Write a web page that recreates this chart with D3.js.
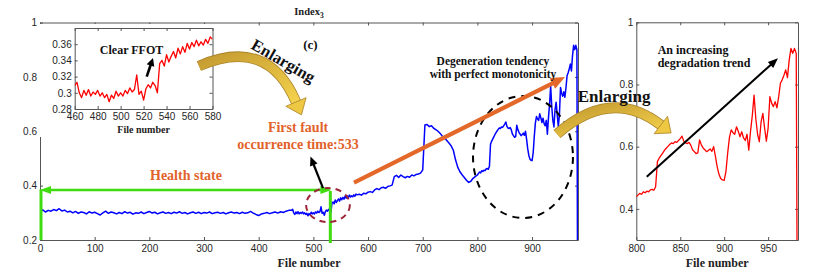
<!DOCTYPE html>
<html>
<head>
<meta charset="utf-8">
<script src="https://cdn.jsdelivr.net/npm/d3@7"></script>
<style>
body{margin:0;background:#fff;}
svg{display:block;}
</style>
</head>
<body>
<script>
// Index3 values, in four runs of file numbers
var healthyStart = 0, healthyStep = 5;
var healthyIdx = [0.305,0.311,0.303,0.309,0.306,0.312,0.308,0.315,0.307,0.310,
  0.303,0.306,0.300,0.305,0.298,0.303,0.301,0.296,0.304,0.299,
  0.302,0.297,0.292,0.300,0.306,0.298,0.303,0.300,0.296,0.301,
  0.297,0.304,0.299,0.302,0.295,0.300,0.298,0.303,0.297,0.301,
  0.305,0.299,0.302,0.296,0.300,0.303,0.298,0.301,0.297,0.302,
  0.299,0.304,0.298,0.301,0.296,0.300,0.303,0.298,0.302,0.297,
  0.301,0.299,0.303,0.297,0.300,0.302,0.298,0.301,0.296,0.300,
  0.303,0.299,0.301,0.297,0.302,0.298,0.300,0.305,0.299,0.294,
  0.290,0.296,0.298,0.301,0.297,0.300,0.303,0.299,0.304,0.301,
  0.306,0.309,0.309];
var faultStart = 462, faultStep = 2;
var faultIdx = [0.313,0.300,0.294,0.303,0.297,0.304,0.296,0.301,0.298,0.303,
  0.296,0.300,0.294,0.298,0.289,0.297,0.293,0.302,0.296,0.300,
  0.296,0.303,0.299,0.306,0.301,0.304,0.322,0.298,0.302,0.291,
  0.305,0.310,0.306,0.313,0.309,0.300,0.336,0.340,0.333,0.347,
  0.338,0.345,0.351,0.343,0.355,0.348,0.357,0.350,0.361,0.354,
  0.362,0.357,0.365,0.358,0.363,0.359,0.366,0.361,0.369,0.366];
var growthStart = 584, growthStep = 4;
var growthIdx = [0.368,0.365,0.372,0.370,0.376,0.378,0.375,0.384,0.389,0.385,
  0.392,0.394,0.390,0.397,0.399,0.402,0.433,0.438,0.430,0.439,
  0.433,0.429,0.434,0.431,0.439,0.436,0.441,0.443,0.446,0.458,
  0.623,0.625,0.617,0.620,0.611,0.606,0.600,0.592,0.581,0.575,
  0.566,0.557,0.546,0.530,0.495,0.468,0.451,0.440,0.430,0.420,
  0.412,0.416,0.427,0.433];
var lateStart = 800, lateStep = 2;
var lateIdx = [0.439,0.445,0.450,0.447,0.455,0.452,0.457,0.455,0.461,0.463,
  0.460,0.471,0.552,0.563,0.571,0.579,0.588,0.595,0.601,0.607,
  0.612,0.610,0.616,0.614,0.620,0.626,0.634,0.618,0.612,0.610,
  0.614,0.605,0.590,0.584,0.578,0.580,0.622,0.606,0.596,0.590,
  0.584,0.588,0.593,0.585,0.600,0.570,0.536,0.512,0.498,0.493,
  0.492,0.520,0.580,0.630,0.654,0.645,0.640,0.664,0.650,0.632,
  0.648,0.628,0.620,0.640,0.589,0.650,0.700,0.766,0.690,0.640,
  0.616,0.680,0.707,0.660,0.618,0.660,0.761,0.740,0.729,0.745,
  0.725,0.760,0.804,0.815,0.830,0.847,0.822,0.879,0.916,0.900,
  0.916,0.900];
var dropFile = [983], dropIdx = [0.2];

var mainXTicks = [0,100,200,300,400,500,600,700,800,900];
var mainYTicks = [0.2,0.4,0.6,0.8,1];
var inXTicks = [460,480,500,520,540,560,580];
var inYTicks = [0.28,0.3,0.32,0.34,0.36];
var rtXTicks = [800,850,900,950];
var rtYTicks = [0.4,0.6,0.8,1];

function run(start, step, vals){
  return vals.map(function(v,i){ return {f:start+i*step, v:v}; });
}
var series = [].concat(
  run(healthyStart, healthyStep, healthyIdx),
  run(faultStart, faultStep, faultIdx),
  run(growthStart, growthStep, growthIdx),
  run(lateStart, lateStep, lateIdx),
  dropFile.map(function(f,i){ return {f:f, v:dropIdx[i]}; })
);

var serif = "'Liberation Serif','Times New Roman',serif";
var sans = "'Liberation Sans',Arial,Helvetica,sans-serif";

var svg = d3.select("body").append("svg").attr("width",818).attr("height",272);
var defs = svg.append("defs");
var gold = defs.append("linearGradient").attr("id","gold").attr("x1","0").attr("y1","0").attr("x2","1").attr("y2","1");
gold.append("stop").attr("offset","0").attr("stop-color","#c49a30");
gold.append("stop").attr("offset","1").attr("stop-color","#f4d24c");

var clipN = 0;
function drawPanel(o){
  var g = svg.append("g");
  var x = d3.scaleLinear().domain(o.xd).range([o.l,o.r]);
  var y = d3.scaleLinear().domain(o.yd).range([o.b,o.t]);
  if(o.bg){
    g.append("rect").attr("x",o.l-o.bg[0]).attr("y",o.t-o.bg[1])
     .attr("width",o.r-o.l+o.bg[0]+o.bg[2]).attr("height",o.b-o.t+o.bg[1]+o.bg[3]).attr("fill","#fff");
  }
  var style = function(s){
    s.attr("font-family",sans).attr("font-size",o.fs);
    s.selectAll("path,line").attr("stroke","#555").attr("stroke-width",1);
    s.selectAll("text").attr("fill","#262626");
  };
  var fmt = d3.format("~g");
  g.append("g").attr("transform","translate(0,"+o.b+")")
   .call(d3.axisBottom(x).tickValues(o.xt).tickSizeInner(-3).tickSizeOuter(0).tickPadding(o.pad).tickFormat(fmt)).call(style);
  g.append("g").attr("transform","translate(0,"+o.t+")")
   .call(d3.axisTop(x).tickValues(o.xt).tickSizeInner(-3).tickSizeOuter(0).tickFormat("")).call(style);
  g.append("g").attr("transform","translate("+o.l+",0)")
   .call(d3.axisLeft(y).tickValues(o.yt).tickSizeInner(-3).tickSizeOuter(0).tickPadding(3).tickFormat(fmt)).call(style);
  g.append("g").attr("transform","translate("+o.r+",0)")
   .call(d3.axisRight(y).tickValues(o.yt).tickSizeInner(-3).tickSizeOuter(0).tickFormat("")).call(style);

  var id = "clip"+(clipN++);
  defs.append("clipPath").attr("id",id).append("rect")
    .attr("x",o.l).attr("y",o.t).attr("width",o.r-o.l).attr("height",o.b-o.t);
  var pts = series.filter(function(d){ return d.f>=o.xd[0] && d.f<=o.xd[1]; });
  g.append("path").datum(pts)
   .attr("clip-path","url(#"+id+")")
   .attr("d", d3.line().x(function(d){return x(d.f);}).y(function(d){return y(d.v);}))
   .attr("fill","none").attr("stroke",o.color).attr("stroke-width",o.lw).attr("stroke-linejoin","round");

  g.append("text").text("File number")
   .attr("x",(o.l+o.r)/2).attr("y",o.labY)
   .attr("text-anchor","middle").attr("font-family",serif).attr("font-weight","bold")
   .attr("font-size",o.labFs).attr("fill","#222");
  return {g:g, x:x, y:y};
}

function label(g, txt, px, py, size, color, anchor, rot){
  var t = g.append("text").text(txt).attr("x",px).attr("y",py)
    .attr("font-family",serif).attr("font-weight","bold").attr("font-size",size)
    .attr("fill",color).attr("text-anchor",anchor||"middle");
  if(rot) t.attr("transform","rotate("+rot+","+px+","+py+")");
  return t;
}

function arrow(g, x1,y1,x2,y2, color, w, hl, hw, both){
  var dx=x2-x1, dy=y2-y1, L=Math.hypot(dx,dy), ux=dx/L, uy=dy/L, nx=-uy, ny=ux;
  var sx = both ? x1+ux*hl*0.8 : x1, sy = both ? y1+uy*hl*0.8 : y1;
  g.append("line").attr("x1",sx).attr("y1",sy).attr("x2",x2-ux*hl*0.8).attr("y2",y2-uy*hl*0.8)
   .attr("stroke",color).attr("stroke-width",w);
  function head(px,py,vx,vy){
    var bx=px-vx*hl, by=py-vy*hl;
    g.append("path").attr("d","M"+px+","+py+"L"+(bx+nx*hw/2)+","+(by+ny*hw/2)+"L"+(bx-nx*hw/2)+","+(by-ny*hw/2)+"Z")
     .attr("fill",color);
  }
  head(x2,y2,ux,uy);
  if(both) head(x1,y1,-ux,-uy);
}

function goldArrow(g, p0, c, b, w, hl, hw){
  var dx=b[0]-c[0], dy=b[1]-c[1], L=Math.hypot(dx,dy), ux=dx/L, uy=dy/L, nx=-uy, ny=ux;
  var tip=[b[0]+ux*hl, b[1]+uy*hl];
  var d="M"+p0[0]+","+p0[1]+"Q"+c[0]+","+c[1]+" "+b[0]+","+b[1];
  g.append("path").attr("d",d).attr("fill","none").attr("stroke","#a9832a").attr("stroke-width",w+1.6);
  g.append("path").attr("d",d).attr("fill","none").attr("stroke","url(#gold)").attr("stroke-width",w);
  g.append("path").attr("d","M"+tip[0]+","+tip[1]+"L"+(b[0]+nx*hw/2)+","+(b[1]+ny*hw/2)+"L"+(b[0]-nx*hw/2)+","+(b[1]-ny*hw/2)+"Z")
   .attr("fill","#efc843").attr("stroke","#a9832a").attr("stroke-width",0.8);
}

// main panel
var main = drawPanel({xd:[0,984], yd:[0.2,1], l:40, r:578, t:22.5, b:240,
  xt:mainXTicks, yt:mainYTicks, fs:10, pad:4.5, color:"#0000ff", lw:1.5, labY:267, labFs:12});
var mx = main.x, my = main.y, mg = main.g;

// title
var ttl = mg.append("text").attr("x",309).attr("y",15).attr("text-anchor","middle")
  .attr("font-family",serif).attr("font-weight","bold").attr("font-size",10.5).attr("fill","#222");
ttl.append("tspan").text("Index");
ttl.append("tspan").text("3").attr("font-size",7.5).attr("dy",3);

label(mg, "(c)", mx(494.7), my(0.9025), 13, "#111");

// health state annotations
var green = "#3fdc10";
arrow(mg, mx(0), my(0.384), mx(533), my(0.384), green, 2.6, 11, 8, true);
mg.append("line").attr("x1",mx(0)+1).attr("x2",mx(0)+1).attr("y1",my(0.386)).attr("y2",my(0.2))
  .attr("stroke",green).attr("stroke-width",3);
mg.append("line").attr("x1",mx(531)).attr("x2",mx(531)).attr("y1",my(0.38)).attr("y2",my(0.189))
  .attr("stroke",green).attr("stroke-width",3);
label(mg, "Health state", mx(267), my(0.4207), 14, "#e2622b");

// fault onset
mg.append("ellipse").attr("cx",mx(526.7)).attr("cy",my(0.3287))
  .attr("rx",mx(40)-mx(0)).attr("ry",my(0.2)-my(0.2625))
  .attr("fill","none").attr("stroke","#9c2638").attr("stroke-width",2).attr("stroke-dasharray","6,5");
arrow(mg, mx(517.6), my(0.391), mx(494.7), my(0.507), "#000", 2.2, 9, 8);
label(mg, "First fault", mx(472), my(0.597), 14, "#e2622b");
label(mg, "occurrence time:533", mx(472), my(0.535), 14, "#e2622b");

// degeneration
mg.append("ellipse").attr("cx",mx(883.4)).attr("cy",my(0.5053))
  .attr("rx",mx(91.4)-mx(0)).attr("ry",my(0.2)-my(0.4244))
  .attr("fill","none").attr("stroke","#000").attr("stroke-width",2).attr("stroke-dasharray","7,6");
arrow(mg, mx(574.3), my(0.4108), mx(960.2), my(0.7995), "#e3682a", 4.2, 14, 12);
label(mg, "Degeneration tendency", mx(828.5), my(0.8437), 11.5, "#111");
label(mg, "with perfect monotonicity", mx(828.5), my(0.796), 11.5, "#111");

// left inset (460-580)
var ins = drawPanel({xd:[460,580], yd:[0.28,0.38], l:74.7, r:212.5, t:28, b:109, bg:[36,4,6,28],
  xt:inXTicks, yt:inYTicks, fs:10, pad:4, color:"#ff0000", lw:1.3, labY:133, labFs:10});
var ix = ins.x, iy = ins.y;
label(ins.g, "Clear FFOT", ix(509.5), iy(0.348), 12, "#111");
arrow(ins.g, ix(522.7), iy(0.3199), ix(528.2), iy(0.343), "#000", 2.6, 8, 8);

// right panel (800-984)
var rt = drawPanel({xd:[800,984], yd:[0.3,1], l:636.3, r:798, t:22.3, b:240,
  xt:rtXTicks, yt:rtYTicks, fs:10, pad:4.5, color:"#ff0000", lw:1.3, labY:267, labFs:12});
var rx = rt.x, ry = rt.y;
label(rt.g, "An increasing", rx(824.3), ry(0.898), 12, "#111", "start");
label(rt.g, "degradation trend", rx(824.3), ry(0.8563), 12, "#111", "start");
arrow(rt.g, rx(811.9), ry(0.5035), rx(961.2), ry(0.8842), "#000", 2, 10, 8);

// enlarging arrows on top
var overlay = svg.append("g");
goldArrow(overlay, [mx(290.8),my(0.84)], [mx(417),my(0.950)], [mx(468.2),my(0.7076)], 9, 14, 22);
label(overlay, "Enlarging", mx(384), my(0.906), 16.5, "#111", "start", 30);
goldArrow(overlay, [rx(709.8),ry(0.6408)], [rx(771.2),ry(0.7936)], [rx(827.9),ry(0.6698)], 9, 13, 22);
label(overlay, "Enlarging", rx(733.3), ry(0.745), 17, "#111", "start");
</script>
</body>
</html>
